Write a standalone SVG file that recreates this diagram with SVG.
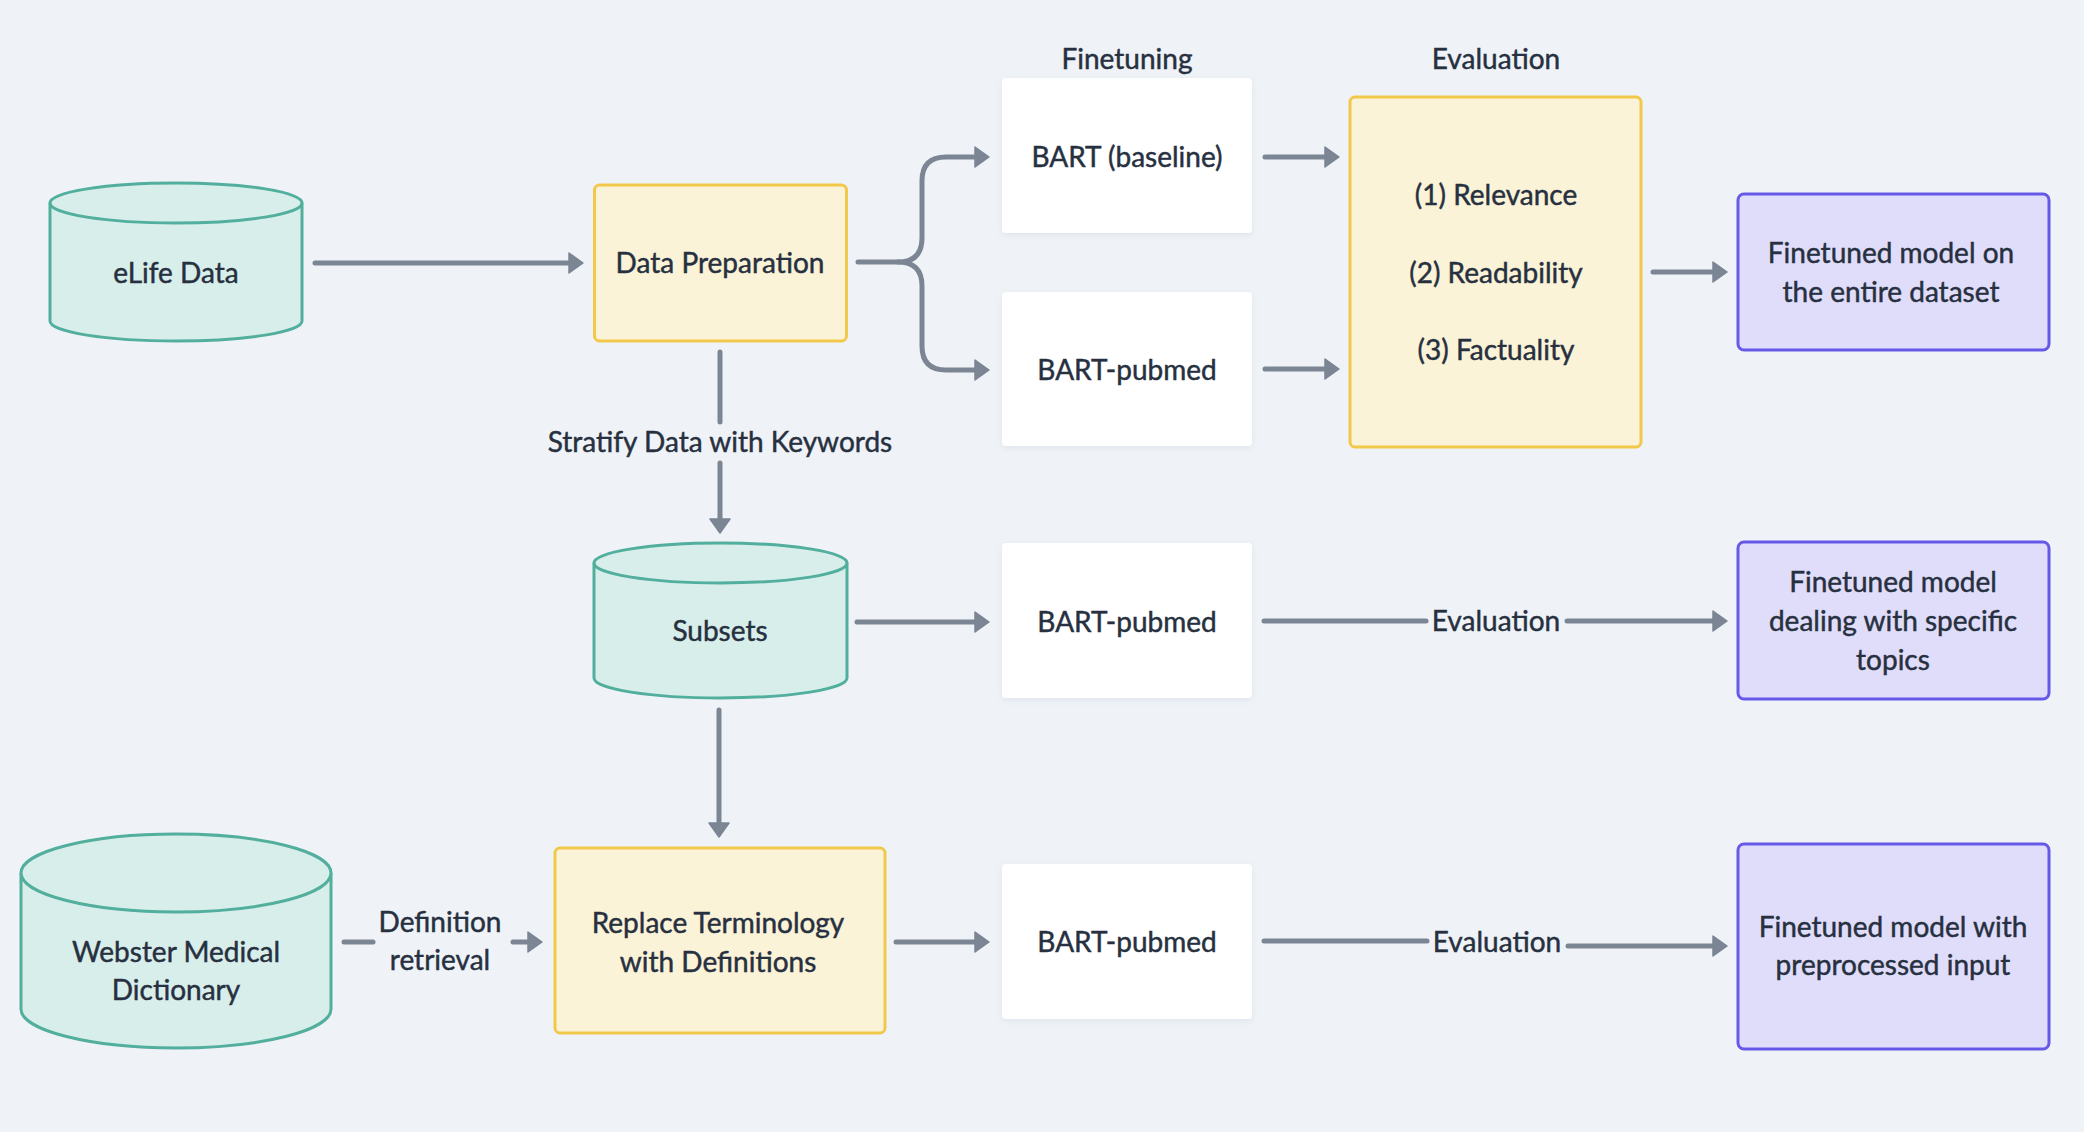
<svg xmlns="http://www.w3.org/2000/svg" width="2084" height="1132" viewBox="0 0 2084 1132">
<defs>
<style>
text{font-family:Lato,"Noto Sans","Liberation Sans",sans-serif;font-size:28px;fill:#27303f;stroke:#27303f;stroke-width:0.45px;text-anchor:middle}
.cyl{fill:#d8eeea;stroke:#52ae9d;stroke-width:3}
.yel{fill:#fbf3d7;stroke:#f2c84b;stroke-width:3}
.pur{fill:#e0ddfa;stroke:#6659e8;stroke-width:3}
.wht{fill:#ffffff;filter:url(#sh)}
.con{fill:none;stroke:#7b8594;stroke-width:5;stroke-linecap:round;stroke-linejoin:round}
.arr{marker-end:url(#ah)}
</style>
<marker id="ah" viewBox="0 0 16 22" markerWidth="16" markerHeight="22" refX="1" refY="11" orient="auto" markerUnits="userSpaceOnUse">
<path d="M1,1 L15,11 L1,21 Z" fill="#7b8594" stroke="#7b8594" stroke-width="1.5" stroke-linejoin="round"/>
</marker>
<filter id="sh" x="-10%" y="-10%" width="120%" height="130%">
<feDropShadow dx="0" dy="2" stdDeviation="3" flood-color="#94a3b8" flood-opacity="0.18"/>
</filter>
</defs>
<rect width="2084" height="1132" fill="#eff3f7"/>

<g id="connectors">
<path class="con arr" d="M315,263 H569"/>
<path class="con" d="M720,352 V422"/>
<path class="con arr" d="M720,463 V519"/>
<path class="con arr" d="M858,262 H898 Q922,262 922,238 V181 Q922,157 946,157 H975"/>
<path class="con arr" d="M898,262 Q922,262 922,286 V346 Q922,370 946,370 H975"/>
<path class="con arr" d="M1265,157 H1325"/>
<path class="con arr" d="M1265,369 H1325"/>
<path class="con arr" d="M1653,272 H1713"/>
<path class="con arr" d="M857,622 H975"/>
<path class="con" d="M1264,621 H1426"/>
<path class="con arr" d="M1567,621 H1713"/>
<path class="con arr" d="M719,710 V823"/>
<path class="con arr" d="M896,942 H975"/>
<path class="con" d="M1264,941 H1427"/>
<path class="con arr" d="M1568,946 H1713"/>
<path class="con" d="M344,942 H373"/>
<path class="con arr" d="M513,942 H528"/>
<text x="720" y="452">Stratify Data with Keywords</text>
<text x="1496" y="631">Evaluation</text>
<text x="1497" y="952">Evaluation</text>
<text x="440" y="932">Definition</text>
<text x="440" y="970">retrieval</text>
</g>

<g id="headers">
<text x="1127" y="69">Finetuning</text>
<text x="1496" y="69">Evaluation</text>
</g>

<g id="elife">
<path class="cyl" d="M50,203 A126,20 0 0 1 302,203 V321 A126,20 0 0 1 50,321 Z"/>
<path class="cyl" fill="none" d="M50,203 A126,20 0 0 0 302,203"/>
<text x="176" y="283">eLife Data</text>
</g>

<g id="data-preparation">
<rect class="yel" x="594.5" y="185" width="252" height="156" rx="5"/>
<text x="720" y="273">Data Preparation</text>
</g>

<g id="bart-baseline">
<rect class="wht" x="1002" y="78" width="250" height="155" rx="4"/>
<text x="1127" y="167">BART (baseline)</text>
</g>

<g id="bart-pubmed-1">
<rect class="wht" x="1002" y="292" width="250" height="154" rx="4"/>
<text x="1127" y="380">BART-pubmed</text>
</g>

<g id="evaluation">
<rect class="yel" x="1350" y="97" width="291" height="350" rx="5"/>
<text x="1496" y="205">(1) Relevance</text>
<text x="1496" y="283">(2) Readability</text>
<text x="1496" y="360">(3) Factuality</text>
</g>

<g id="finetuned-entire">
<rect class="pur" x="1738" y="194" width="311" height="156" rx="6"/>
<text x="1891" y="263">Finetuned model on</text>
<text x="1891" y="302">the entire dataset</text>
</g>

<g id="subsets">
<path class="cyl" d="M594,563 A126.5,20 0 0 1 847,563 V678 A126.5,20 0 0 1 594,678 Z"/>
<path class="cyl" fill="none" d="M594,563 A126.5,20 0 0 0 847,563"/>
<text x="720" y="641">Subsets</text>
</g>

<g id="bart-pubmed-2">
<rect class="wht" x="1002" y="543" width="250" height="155" rx="4"/>
<text x="1127" y="632">BART-pubmed</text>
</g>

<g id="finetuned-topics">
<rect class="pur" x="1738" y="542" width="311" height="157" rx="6"/>
<text x="1893" y="592">Finetuned model</text>
<text x="1893" y="631">dealing with specific</text>
<text x="1893" y="670">topics</text>
</g>

<g id="webster">
<path class="cyl" d="M21,873 A155,39 0 0 1 331,873 V1009 A155,39 0 0 1 21,1009 Z"/>
<path class="cyl" fill="none" d="M21,873 A155,39 0 0 0 331,873"/>
<text x="176" y="962">Webster Medical</text>
<text x="176" y="1000">Dictionary</text>
</g>

<g id="replace-terminology">
<rect class="yel" x="555" y="848" width="330" height="185" rx="5"/>
<text x="718" y="933">Replace Terminology</text>
<text x="718" y="972">with Definitions</text>
</g>

<g id="bart-pubmed-3">
<rect class="wht" x="1002" y="864" width="250" height="155" rx="4"/>
<text x="1127" y="952">BART-pubmed</text>
</g>

<g id="finetuned-preprocessed">
<rect class="pur" x="1738" y="844" width="311" height="205" rx="6"/>
<text x="1893" y="937">Finetuned model with</text>
<text x="1893" y="975">preprocessed input</text>
</g>
</svg>
